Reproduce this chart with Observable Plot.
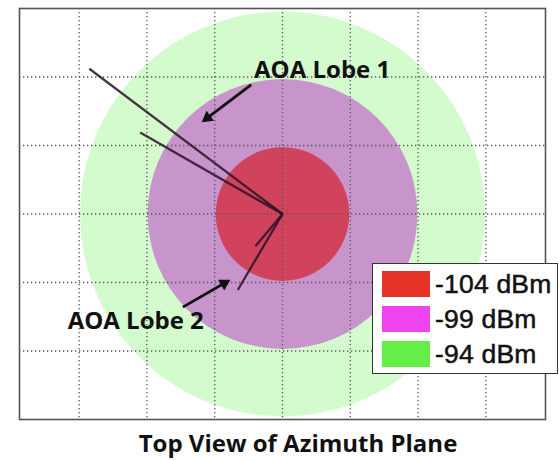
<!DOCTYPE html>
<html>
<head>
<meta charset="utf-8">
<script src="https://cdn.jsdelivr.net/npm/d3@7"></script>
<script src="https://cdn.jsdelivr.net/npm/@observablehq/plot@0.6"></script>
<style>
  html, body { margin: 0; padding: 0; background: #fff; }
  #wrap { position: relative; width: 559px; height: 461px; overflow: hidden; }
  #legend { position: absolute; left: 372px; top: 263px; width: 184px; height: 109px;
            background: #fff; border: 1.5px solid #333; font-family: "Liberation Sans", Arial, sans-serif; }
  .row { position: absolute; left: 9px; height: 26px; display: flex; align-items: center; }
  .sw { width: 48px; height: 26px; margin-right: 5px; }
  .lab { font-size: 26.5px; color: #111; -webkit-text-stroke: 0.5px #111; letter-spacing: 0.2px; }
  #title { position: absolute; left: 0; width: 559px; padding-left: 37px; box-sizing: border-box; top: 428px;
           text-align: center; font-family: "Open Sans", sans-serif; font-weight: bold; font-size: 24px; line-height: 30px; color: #111; }
</style>
</head>
<body>
<div id="wrap">
  <div id="chart"></div>
  <div id="legend"></div>
  <div id="title">Top View of Azimuth Plane</div>
</div>
<script>
// Data
const levels = ["-94 dBm", "-99 dBm", "-104 dBm"];
const radii = [2.97, 1.98, 0.98];
const fillColors = ["#d4fbcd", "#c894cc", "#d1435d"];
const legendLevels = ["-104 dBm", "-99 dBm", "-94 dBm"];
const legendColors = ["#e6332a", "#ee44ee", "#66ee48"];

const lobeEndX = [-2.85, -2.10, -0.66, -0.40];
const lobeEndY = [2.12, 1.19, -1.11, -0.47];
const originX = 0, originY = 0;

const annotations = ["AOA Lobe 1", "AOA Lobe 2"];
const annX = [-0.42, -3.17];
const annY = [2.10, -1.57];
const arrowX1 = [-0.46, -1.47], arrowY1 = [1.89, -1.36];
const arrowX2 = [-1.19, -0.77], arrowY2 = [1.34, -0.96];

const gridX = [-3, -2, -1, 0, 1, 2, 3];
const gridY = [-2, -1, 0, 1, 2];

const W = 559, H = 425, mL = 19, mR = 14, mT = 8, mB = 6;
const xDom = [-3.88, 3.88], yDom = [-3, 3];
const pxX = (W - mL - mR) / (xDom[1] - xDom[0]);
const pxY = (H - mT - mB) / (yDom[1] - yDom[0]);
const pxPerUnit = (pxX + pxY) / 2;

const circles = levels.map((l, i) => ({level: l, r: radii[i], fill: fillColors[i]}));
const rays = lobeEndX.map((x, i) => ({x1: originX, y1: originY, x2: x, y2: lobeEndY[i]}));
const anns = annotations.map((t, i) => ({t, x: annX[i], y: annY[i]}));
const headBack = 7; // px from tip to triangle center
const arrows = arrowX1.map((x, i) => {
  const dxp = (arrowX2[i] - x) * pxX, dyp = -(arrowY2[i] - arrowY1[i]) * pxY;
  const len = Math.hypot(dxp, dyp);
  const ux = dxp / len, uy = dyp / len;
  const cx = arrowX2[i] - ux * headBack / pxX;
  const cy = arrowY2[i] + uy * headBack / pxY;
  return {x1: x, y1: arrowY1[i], cx, cy, rot: Math.atan2(ux, -uy) * 180 / Math.PI};
});

const chart = Plot.plot({
  width: W, height: H,
  marginLeft: mL, marginRight: mR, marginTop: mT, marginBottom: mB,
  x: {domain: xDom, axis: null},
  y: {domain: yDom, axis: null},
  r: {type: "linear", domain: [0, 3], range: [0, 3 * pxPerUnit]},
  marks: [
    Plot.dot(circles, {x: () => originX, y: () => originY, r: "r", fill: "fill", stroke: null}),
    Plot.ruleX(gridX, {stroke: "#555", strokeWidth: 1.3, strokeDasharray: "1.3,2.7"}),
    Plot.ruleY(gridY, {stroke: "#555", strokeWidth: 1.3, strokeDasharray: "1.3,2.7"}),
    Plot.link(rays, {x1: "x1", y1: "y1", x2: "x2", y2: "y2", stroke: "#2a1224", strokeWidth: 2.3, strokeOpacity: 0.85}),
    Plot.link(arrows, {x1: "x1", y1: "y1", x2: "cx", y2: "cy", stroke: "#111", strokeWidth: 2.8}),
    Plot.dot(arrows, {x: "cx", y: "cy", symbol: "triangle", r: 4.6, rotate: "rot", fill: "#111", stroke: null}),
    Plot.text(anns, {x: "x", y: "y", text: "t", textAnchor: "start", fontFamily: "Open Sans", fontWeight: "bold", fontSize: 24, fill: "#111"}),
    Plot.frame({stroke: "#555", strokeWidth: 1.6})
  ]
});
document.getElementById("chart").appendChild(chart);

const leg = document.getElementById("legend");
legendLevels.forEach((l, i) => {
  const row = document.createElement("div");
  row.className = "row";
  row.style.top = (7 + i * 35) + "px";
  row.innerHTML = `<div class="sw" style="background:${legendColors[i]}"></div><div class="lab">${l}</div>`;
  leg.appendChild(row);
});
</script>
</body>
</html>
